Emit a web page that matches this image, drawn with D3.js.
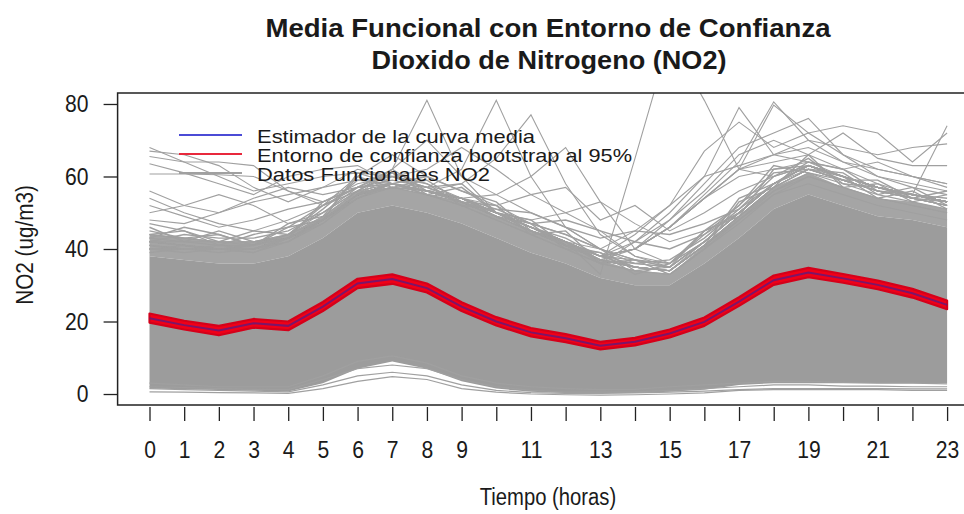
<!DOCTYPE html>
<html>
<head>
<meta charset="utf-8">
<script src="https://cdn.jsdelivr.net/npm/d3@7/dist/d3.min.js"></script>
<style>
  body { margin: 0; background: #fff; }
  text { font-family: "Liberation Sans", Arial, sans-serif; fill: #1a1a1a; }
</style>
</head>
<body>
<script>
// hours of the day (x categories) and the labels R kept on the axis
const hours = [0, 1, 2, 3, 4, 5, 6, 7, 8, 9, 10, 11, 12, 13, 14, 15, 16, 17, 18, 19, 20, 21, 22, 23];
const hourLabels = [0, 1, 2, 3, 4, 5, 6, 7, 8, 9, 11, 13, 15, 17, 19, 21, 23];
const yTicks = [0, 20, 40, 60, 80];

// mean curve and bootstrap band
const meanCurve = [20.9, 19.0, 17.5, 19.5, 18.8, 24.1, 30.5, 31.7, 29.2, 24.1, 20.0, 17.0, 15.4, 13.3, 14.4, 16.7, 19.9, 25.5, 31.4, 33.5, 31.9, 30.1, 27.8, 24.6];
const bandLow = [19.7, 17.8, 16.2, 18.3, 17.6, 22.9, 29.2, 30.4, 28.0, 22.9, 18.9, 15.9, 14.3, 12.3, 13.4, 15.6, 18.8, 24.3, 30.1, 32.2, 30.7, 28.9, 26.6, 23.4];
const bandHigh = [22.2, 20.2, 18.8, 20.7, 20.0, 25.4, 31.8, 33.0, 30.5, 25.3, 21.2, 18.2, 16.5, 14.4, 15.5, 17.8, 21.1, 26.7, 32.7, 34.8, 33.1, 31.3, 29.0, 25.8];

// bulk of the functional data: solid core, speckled fringe
const coreLow = [1.5, 1.3, 1.1, 0.9, 0.7, 3.0, 7.0, 9.0, 7.0, 3.5, 1.5, 0.6, 0.3, 0.2, 0.3, 0.6, 1.2, 2.5, 3.0, 3.0, 3.0, 3.0, 3.0, 3.0];
const coreHigh = [38, 37, 36, 36, 38, 43, 50, 52, 50, 47, 43, 39, 36, 32, 30, 30, 36, 43, 51, 55, 52, 49, 48, 46];
const fringeHigh = [44, 43, 42, 42, 44, 49, 56, 57, 55, 53, 49, 45, 42, 37, 34, 33, 41, 49, 57, 61, 57, 54, 53, 51];

// low curves under the bulk
const lowCurves = [
  [0.6, 0.5, 0.4, 0.3, 0.2, 1.5, 3.5, 4.8, 4.0, 1.5, 0.5, 0.0, -0.2, -0.3, -0.2, 0.0, 0.3, 1.0, 1.2, 1.2, 1.2, 1.2, 1.0, 1.0],
  [1.5, 1.2, 1.0, 0.8, 0.6, 2.5, 5.0, 6.0, 5.0, 2.5, 1.0, 0.4, 0.2, 0.2, 0.3, 0.5, 0.8, 1.2, 1.5, 1.5, 1.5, 1.5, 1.4, 1.4],
  [2.0, 1.8, 1.5, 1.3, 1.2, 4.0, 7.0, 8.0, 7.0, 4.0, 2.0, 1.0, 0.5, 0.5, 0.6, 1.0, 1.5, 2.0, 2.5, 2.5, 2.2, 2.2, 2.0, 2.0],
  [3.0, 2.5, 2.0, 2.0, 2.0, 5.0, 9.0, 10.5, 8.5, 5.0, 3.0, 2.0, 1.5, 1.2, 1.3, 2.0, 2.5, 3.0, 3.5, 3.5, 3.2, 3.0, 3.0, 2.8]
];

// curves along the ragged top of the bulk
const edgeCurves = [
  [47, 45, 41, 44, 46, 52, 56, 61, 55, 57, 50, 48, 41, 39, 33, 36, 44, 52, 61, 62, 61, 55, 57, 52],
  [43, 46, 44, 41, 47, 49, 60, 57, 59, 53, 52, 44, 45, 36, 37, 33, 40, 53, 57, 66, 57, 58, 53, 55],
  [46, 42, 45, 42, 43, 53, 57, 62, 56, 54, 49, 47, 44, 40, 34, 35, 45, 49, 62, 63, 60, 54, 56, 51],
  [44, 45, 42, 45, 44, 51, 59, 58, 60, 56, 53, 45, 42, 37, 36, 37, 43, 51, 60, 65, 58, 57, 54, 56],
  [45, 43, 44, 41, 46, 48, 61, 60, 58, 52, 51, 47, 40, 39, 35, 34, 41, 54, 58, 64, 62, 56, 55, 54],
  [42, 44, 43, 43, 45, 50, 57, 59, 57, 58, 50, 46, 43, 38, 37, 36, 45, 52, 63, 61, 59, 59, 54, 53],
  [42, 41, 40, 40, 43, 48, 55, 58, 56, 54, 50, 47, 48, 45, 42, 40, 44, 50, 58, 63, 60, 57, 55, 53],
  [41, 40, 40, 40, 43, 48, 55, 58, 56, 54, 51, 50, 46, 43, 45, 44, 47, 51, 58, 63, 60, 57, 55, 53]
];

// curves standing out above the bulk
const highCurves = [
  [68, 64, 60, 56, 58, 60, 61, 58, 55, 52, 48, 44, 40, 36, 34, 33, 40, 48, 55, 58, 55, 52, 50, 48],
  [67, 66, 63, 57, 53, 57, 62, 60, 57, 53, 49, 45, 41, 37, 35, 34, 41, 49, 56, 60, 57, 54, 52, 50],
  [65.5, 64, 64, 63, 56, 52, 57, 61, 58, 54, 50, 45, 42, 37, 35, 34, 41, 48, 56, 61, 58, 55, 53, 51],
  [63.5, 61, 58, 55, 60, 62, 63, 58, 55, 52, 48, 44, 40, 36, 34, 33, 40, 47, 55, 60, 57, 54, 52, 50],
  [60.7, 60.7, 60.5, 60, 56, 53, 58, 60, 57, 54, 50, 46, 42, 37, 35, 34, 41, 49, 57, 62, 59, 56, 54, 52],
  [56, 52, 50, 53, 55, 57, 59, 60, 56, 53, 50, 46, 42, 38, 35, 34, 42, 50, 58, 63, 59, 56, 55, 53],
  [54, 50, 47, 45, 48, 52, 57, 58, 56, 53, 49, 45, 41, 37, 35, 34, 41, 49, 57, 62, 59, 56, 54, 52],
  [52, 49, 46, 48, 51, 53, 57, 58, 56, 54, 50, 46, 42, 38, 36, 35, 42, 50, 58, 63, 60, 57, 55, 53],
  [50, 52, 55, 52, 47, 50, 56, 58, 56, 53, 49, 45, 41, 37, 35, 34, 41, 49, 57, 62, 59, 56, 54, 52],
  [48, 47, 50, 54, 57, 55, 57, 58, 56, 53, 49, 45, 41, 37, 35, 34, 41, 49, 57, 62, 59, 56, 54, 52],
  [40, 40, 40, 41, 43, 48, 55, 62, 81, 60, 50, 45, 42, 38, 35, 34, 41, 49, 57, 62, 59, 56, 54, 52],
  [42, 42, 42, 42, 44, 48, 55, 58, 57, 62, 81, 60, 46, 40, 36, 35, 42, 50, 58, 63, 60, 57, 55, 53],
  [44, 43, 42, 42, 44, 49, 56, 58, 56, 58, 65, 77, 58, 44, 38, 36, 42, 50, 58, 63, 60, 57, 55, 53],
  [42, 41, 40, 40, 43, 48, 55, 60, 62, 68, 62, 55, 50, 45, 38, 35, 42, 50, 58, 63, 60, 57, 55, 53],
  [42, 41, 40, 40, 43, 48, 55, 58, 56, 54, 55, 60, 68, 53, 40, 36, 42, 50, 58, 63, 60, 57, 55, 53],
  [41, 40, 40, 39, 42, 47, 54, 57, 55, 53, 50, 48, 50, 53, 47, 42, 45, 50, 58, 62, 60, 57, 55, 53],
  [42, 41, 40, 40, 43, 48, 55, 58, 56, 54, 52, 55, 57, 48, 52, 45, 50, 56, 60, 63, 60, 57, 55, 53],
  [42, 41, 40, 40, 43, 48, 55, 58, 56, 54, 50, 46, 42, 33, 65, 98, 81, 62, 60, 63, 60, 57, 55, 53],
  [44, 43, 42, 41, 44, 50, 56, 62, 70, 60, 55, 50, 46, 40, 37, 35, 42, 50, 58, 63, 60, 57, 55, 53],
  [43, 42, 41, 41, 44, 52, 60, 66, 60, 56, 52, 47, 44, 40, 37, 35, 42, 50, 58, 63, 60, 57, 55, 53],
  [40, 40, 39, 40, 43, 48, 55, 57, 56, 54, 50, 46, 42, 38, 42, 50, 60, 79, 66, 64, 60, 57, 55, 53],
  [40, 39, 40, 40, 42, 48, 54, 58, 56, 53, 50, 46, 42, 38, 40, 46, 55, 64, 80.6, 70, 64, 60, 57, 55],
  [40, 40, 40, 39, 43, 47, 55, 58, 55, 54, 50, 45, 42, 38, 44, 52, 67, 75, 68, 72, 66, 62, 60, 58],
  [39, 40, 40, 40, 43, 48, 55, 57, 56, 54, 49, 46, 42, 37, 40, 46, 54, 62, 79.7, 72, 74, 72, 64, 72],
  [40, 40, 41, 40, 43, 48, 54, 58, 56, 54, 50, 46, 41, 38, 40, 46, 54, 62, 66, 70, 68, 66, 68, 69],
  [40, 41, 40, 40, 42, 48, 55, 58, 56, 53, 50, 46, 42, 38, 40, 46, 54, 62, 64, 66, 72, 65, 63, 63],
  [41, 40, 40, 40, 43, 48, 55, 57, 56, 54, 50, 46, 42, 38, 40, 46, 54, 60, 62, 64, 62, 58, 55, 74],
  [40, 40, 40, 41, 43, 48, 55, 58, 56, 54, 50, 45, 42, 38, 40, 48, 58, 68, 72, 76, 66, 60, 58, 56],
  [40, 40, 40, 40, 43, 48, 55, 58, 56, 54, 50, 46, 42, 40, 45, 52, 60, 63, 66, 68, 64, 62, 60, 58],
  [40, 40, 40, 40, 43, 48, 55, 58, 56, 54, 50, 46, 42, 36, 42, 48, 56, 66, 70, 66, 62, 64, 60, 57]
];

const legendLabels = ["Estimador de la curva media", "Entorno de confianza bootstrap al 95%", "Datos Funcionales NO2"];

const w = 964;
const h = 514;
const box = { left: 117.6, right: 979, top: 93, bottom: 405 };

const svg = d3.select("body").append("svg").attr("width", w).attr("height", h);

const xScale = d3.scaleLinear().domain([-0.92, 23.92]).range([box.left, box.right]);
const yScale = d3.scaleLinear().domain([-3.03, 83.03]).range([box.bottom, box.top]);

// squeeze text horizontally, the source font is narrow
const condense = (sel, ratio) => {
  sel.each(function () {
    const len = this.getComputedTextLength();
    if (len > 0) {
      this.setAttribute("textLength", len * ratio);
      this.setAttribute("lengthAdjust", "spacingAndGlyphs");
    }
  });
};

svg.append("clipPath").attr("id", "plotClip")
  .append("rect")
  .attr("x", box.left).attr("y", box.top)
  .attr("width", box.right - box.left).attr("height", box.bottom - box.top);

const plot = svg.append("g").attr("clip-path", "url(#plotClip)");

const line = (arr) => d3.line().x((d, i) => xScale(hours[i])).y((d) => yScale(d))(arr);
const area = (lo, hi) => d3.area()
  .x((d, i) => xScale(hours[i]))
  .y0((d, i) => yScale(lo[i]))
  .y1((d, i) => yScale(hi[i]))(hours);

// the bulk of grey curves
plot.append("path").attr("d", area(coreHigh, fringeHigh)).attr("fill", "#a5a5a5");
plot.append("path").attr("d", area(coreLow, coreHigh)).attr("fill", "#9c9c9c");

const drawCurves = (data, cls, sw) => {
  plot.selectAll("." + cls)
    .data(data)
    .enter()
    .append("path")
    .attr("class", cls)
    .attr("d", (d) => line(d))
    .attr("fill", "none")
    .attr("stroke", "#a0a0a0")
    .attr("stroke-width", sw);
};
drawCurves(lowCurves, "low", 1.2);
drawCurves(edgeCurves, "edge", 1.4);
drawCurves(highCurves, "high", 1.1);

// bootstrap band and mean
plot.append("path")
  .attr("d", area(bandLow, bandHigh))
  .attr("fill", "#f00018")
  .attr("stroke", "#d4001a")
  .attr("stroke-width", 2.2)
  .attr("stroke-linejoin", "round");

plot.append("path")
  .attr("d", line(meanCurve))
  .attr("fill", "none")
  .attr("stroke", "#4a1e8c")
  .attr("stroke-width", 2)
  .attr("opacity", 0.7);

// box
svg.append("rect")
  .attr("x", box.left).attr("y", box.top)
  .attr("width", box.right - box.left).attr("height", box.bottom - box.top)
  .attr("fill", "none").attr("stroke", "#222").attr("stroke-width", 1.5);

// axes
const yAxis = d3.axisLeft(yScale).tickValues(yTicks).tickSize(14).tickSizeOuter(0).tickPadding(15);
const yG = svg.append("g").attr("transform", "translate(" + box.left + ",0)").call(yAxis);
yG.select(".domain").remove();
yG.selectAll("line").attr("stroke", "#222").attr("stroke-width", 1.3);
yG.selectAll("text").attr("font-size", 24).attr("fill", "#1a1a1a").attr("font-family", "Liberation Sans, Arial, sans-serif");

const xAxis = d3.axisBottom(xScale)
  .tickValues(hours)
  .tickFormat((d) => (hourLabels.includes(d) ? d : ""))
  .tickSize(14).tickSizeOuter(0).tickPadding(20);
const xG = svg.append("g").attr("transform", "translate(0," + (box.bottom + 2) + ")").call(xAxis);
xG.select(".domain").remove();
xG.selectAll("line").attr("stroke", "#222").attr("stroke-width", 1.3);
xG.selectAll("text").attr("font-size", 24).attr("fill", "#1a1a1a").attr("font-family", "Liberation Sans, Arial, sans-serif");

condense(yG.selectAll("text"), 0.88);
condense(xG.selectAll("text"), 0.88);

// titles
const t1 = svg.append("text").attr("x", 548).attr("y", 37).attr("text-anchor", "middle")
  .attr("font-size", 25).attr("font-weight", "bold").text("Media Funcional con Entorno de Confianza");
const t2 = svg.append("text").attr("x", 549).attr("y", 69).attr("text-anchor", "middle")
  .attr("font-size", 25).attr("font-weight", "bold").text("Dioxido de Nitrogeno (NO2)");
t1.attr("textLength", 565).attr("lengthAdjust", "spacingAndGlyphs");
t2.attr("textLength", 355).attr("lengthAdjust", "spacingAndGlyphs");

const xl = svg.append("text").attr("x", 548).attr("y", 505).attr("text-anchor", "middle")
  .attr("font-size", 23).text("Tiempo (horas)");
condense(xl, 0.88);

const yl = svg.append("text").attr("transform", "translate(33,245) rotate(-90)").attr("text-anchor", "middle")
  .attr("font-size", 23).text("NO2 (ug/m3)");
condense(yl, 0.9);

// legend
const legendColors = ["#4b4bd6", "#e8283c", "#a0a0a0"];
const legendY = [135, 154, 173];
const legend = svg.append("g");
legend.selectAll("line")
  .data(legendLabels)
  .enter()
  .append("line")
  .attr("x1", 179).attr("x2", 242)
  .attr("y1", (d, i) => legendY[i]).attr("y2", (d, i) => legendY[i])
  .attr("stroke", (d, i) => legendColors[i])
  .attr("stroke-width", 2);
const legendText = legend.selectAll("text")
  .data(legendLabels)
  .enter()
  .append("text")
  .attr("x", 257)
  .attr("y", (d, i) => legendY[i] + 8)
  .attr("font-size", 19)
  .text((d) => d);
// widths measured on the reference
const legendWidths = [278, 375, 233];
legendText.attr("textLength", (d, i) => legendWidths[i]).attr("lengthAdjust", "spacingAndGlyphs");
</script>
</body>
</html>
